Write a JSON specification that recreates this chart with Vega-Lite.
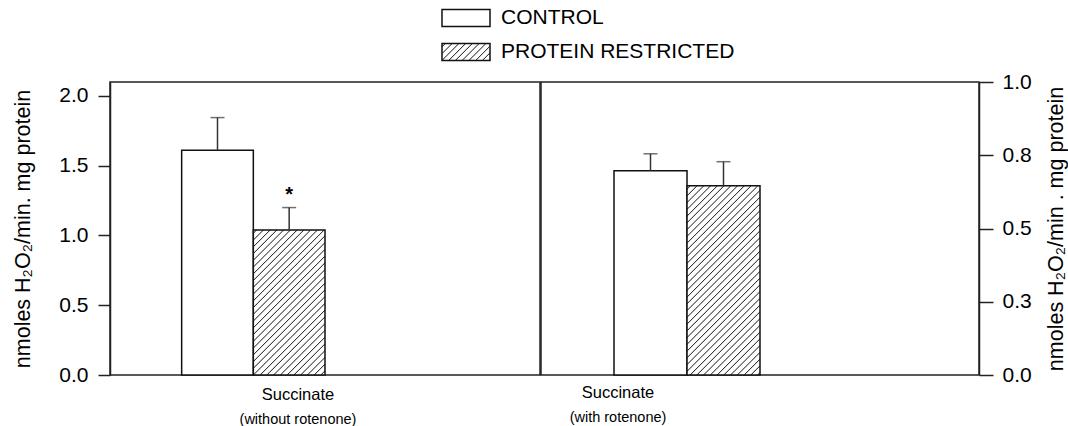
{
  "$schema": "https://vega.github.io/schema/vega-lite/v6.json",
  "padding": {"left": 12, "top": 0, "right": 2, "bottom": 0},
  "spacing": -1.5,
  "config": {
    "font": "Liberation Sans",
    "view": {"stroke": "#222", "strokeWidth": 1.5},
    "axis": {"grid": false, "domainColor": "#222", "tickColor": "#222", "domainWidth": 1.5, "tickWidth": 1.5, "labelColor": "black", "titleColor": "black", "titleFontWeight": "normal", "labelFontSize": 21, "titleFontSize": 21.5, "tickSize": 12},
    "legend": {"labelFontSize": 21, "labelColor": "black", "labelOffset": 17, "labelLimit": 400, "symbolOpacity": 1, "symbolSize": 1156, "symbolType": "M-1.412,-0.5H1.412V0.5H-1.412Z", "rowPadding": 0}
  },
  "data": {"values": [
    {"panel": "left", "group": "CONTROL", "value": 1.61, "upper": 1.845, "sig": ""},
    {"panel": "left", "group": "PROTEIN RESTRICTED", "value": 1.04, "upper": 1.2, "sig": "*"},
    {"panel": "right", "group": "CONTROL", "value": 0.697, "upper": 0.755, "sig": ""},
    {"panel": "right", "group": "PROTEIN RESTRICTED", "value": 0.646, "upper": 0.728, "sig": ""}
  ]},
  "hconcat": [
    {
      "width": 430,
      "height": 293,
      "transform": [{"filter": "datum.panel === 'left'"}],
      "title": {"text": "Succinate", "subtitle": "(without rotenone)", "orient": "bottom", "anchor": "middle", "dx": -27, "offset": 2, "fontSize": 16.5, "subtitleFontSize": 14.5, "fontWeight": "normal", "subtitlePadding": 9, "color": "black", "subtitleColor": "black"},
      "encoding": {"x": {"field": "group", "type": "nominal", "scale": {"domain": ["p0", "CONTROL", "PROTEIN RESTRICTED", "p3", "p4", "p5"], "paddingInner": 0, "paddingOuter": 0}, "axis": null}},
      "layer": [
        {
          "mark": {"type": "bar", "stroke": "#111", "strokeWidth": 1.5},
          "encoding": {
            "y": {"field": "value", "type": "quantitative", "title": "nmoles H₂O₂/min. mg protein", "scale": {"domain": [0, 2.1], "nice": false}, "axis": {"values": [0, 0.5, 1, 1.5, 2], "format": ".1f", "labelPadding": 10, "titlePadding": 24}},
            "fill": {
              "condition": {"test": "datum.group === 'PROTEIN RESTRICTED'", "value": {"gradient": "linear", "x1": 0, "y1": 0, "x2": 0.7388, "y2": 1.4959, "stops": [
{"offset":0.0085,"color":"white"},{"offset":0.0125,"color":"#222"},{"offset":0.0165,"color":"white"},
{"offset":0.0335,"color":"white"},{"offset":0.0375,"color":"#222"},{"offset":0.0415,"color":"white"},
{"offset":0.0585,"color":"white"},{"offset":0.0625,"color":"#222"},{"offset":0.0665,"color":"white"},
{"offset":0.0835,"color":"white"},{"offset":0.0875,"color":"#222"},{"offset":0.0915,"color":"white"},
{"offset":0.1085,"color":"white"},{"offset":0.1125,"color":"#222"},{"offset":0.1165,"color":"white"},
{"offset":0.1335,"color":"white"},{"offset":0.1375,"color":"#222"},{"offset":0.1415,"color":"white"},
{"offset":0.1585,"color":"white"},{"offset":0.1625,"color":"#222"},{"offset":0.1665,"color":"white"},
{"offset":0.1835,"color":"white"},{"offset":0.1875,"color":"#222"},{"offset":0.1915,"color":"white"},
{"offset":0.2085,"color":"white"},{"offset":0.2125,"color":"#222"},{"offset":0.2165,"color":"white"},
{"offset":0.2335,"color":"white"},{"offset":0.2375,"color":"#222"},{"offset":0.2415,"color":"white"},
{"offset":0.2585,"color":"white"},{"offset":0.2625,"color":"#222"},{"offset":0.2665,"color":"white"},
{"offset":0.2835,"color":"white"},{"offset":0.2875,"color":"#222"},{"offset":0.2915,"color":"white"},
{"offset":0.3085,"color":"white"},{"offset":0.3125,"color":"#222"},{"offset":0.3165,"color":"white"},
{"offset":0.3335,"color":"white"},{"offset":0.3375,"color":"#222"},{"offset":0.3415,"color":"white"},
{"offset":0.3585,"color":"white"},{"offset":0.3625,"color":"#222"},{"offset":0.3665,"color":"white"},
{"offset":0.3835,"color":"white"},{"offset":0.3875,"color":"#222"},{"offset":0.3915,"color":"white"},
{"offset":0.4085,"color":"white"},{"offset":0.4125,"color":"#222"},{"offset":0.4165,"color":"white"},
{"offset":0.4335,"color":"white"},{"offset":0.4375,"color":"#222"},{"offset":0.4415,"color":"white"},
{"offset":0.4585,"color":"white"},{"offset":0.4625,"color":"#222"},{"offset":0.4665,"color":"white"},
{"offset":0.4835,"color":"white"},{"offset":0.4875,"color":"#222"},{"offset":0.4915,"color":"white"},
{"offset":0.5085,"color":"white"},{"offset":0.5125,"color":"#222"},{"offset":0.5165,"color":"white"},
{"offset":0.5335,"color":"white"},{"offset":0.5375,"color":"#222"},{"offset":0.5415,"color":"white"},
{"offset":0.5585,"color":"white"},{"offset":0.5625,"color":"#222"},{"offset":0.5665,"color":"white"},
{"offset":0.5835,"color":"white"},{"offset":0.5875,"color":"#222"},{"offset":0.5915,"color":"white"},
{"offset":0.6085,"color":"white"},{"offset":0.6125,"color":"#222"},{"offset":0.6165,"color":"white"},
{"offset":0.6335,"color":"white"},{"offset":0.6375,"color":"#222"},{"offset":0.6415,"color":"white"},
{"offset":0.6585,"color":"white"},{"offset":0.6625,"color":"#222"},{"offset":0.6665,"color":"white"},
{"offset":0.6835,"color":"white"},{"offset":0.6875,"color":"#222"},{"offset":0.6915,"color":"white"},
{"offset":0.7085,"color":"white"},{"offset":0.7125,"color":"#222"},{"offset":0.7165,"color":"white"},
{"offset":0.7335,"color":"white"},{"offset":0.7375,"color":"#222"},{"offset":0.7415,"color":"white"},
{"offset":0.7585,"color":"white"},{"offset":0.7625,"color":"#222"},{"offset":0.7665,"color":"white"},
{"offset":0.7835,"color":"white"},{"offset":0.7875,"color":"#222"},{"offset":0.7915,"color":"white"},
{"offset":0.8085,"color":"white"},{"offset":0.8125,"color":"#222"},{"offset":0.8165,"color":"white"},
{"offset":0.8335,"color":"white"},{"offset":0.8375,"color":"#222"},{"offset":0.8415,"color":"white"},
{"offset":0.8585,"color":"white"},{"offset":0.8625,"color":"#222"},{"offset":0.8665,"color":"white"},
{"offset":0.8835,"color":"white"},{"offset":0.8875,"color":"#222"},{"offset":0.8915,"color":"white"},
{"offset":0.9085,"color":"white"},{"offset":0.9125,"color":"#222"},{"offset":0.9165,"color":"white"},
{"offset":0.9335,"color":"white"},{"offset":0.9375,"color":"#222"},{"offset":0.9415,"color":"white"},
{"offset":0.9585,"color":"white"},{"offset":0.9625,"color":"#222"},{"offset":0.9665,"color":"white"},
{"offset":0.9835,"color":"white"},{"offset":0.9875,"color":"#222"},{"offset":0.9915,"color":"white"}
              ]}},
              "value": "white"
            }
          }
        },
        {
          "transform": [{"filter": "datum.group === 'CONTROL'"}],
          "mark": {"type": "point", "opacity": 0, "filled": true, "fill": "white", "stroke": "#111", "strokeWidth": 1.2, "shape": "M-1.412,-0.5H1.412V0.5H-1.412Z", "size": 1156},
          "encoding": {
            "y": {"field": "value", "type": "quantitative", "title": "nmoles H₂O₂/min. mg protein"},
            "shape": {
              "field": "group", "type": "nominal",
              "scale": {"domain": ["CONTROL"], "range": ["M-1.412,-0.5H1.412V0.5H-1.412Z"]},
              "legend": {"title": null, "orient": "none", "legendX": 338, "legendY": -82}
            }
          }
        },
        {
          "transform": [{"filter": "datum.group === 'PROTEIN RESTRICTED'"}],
          "mark": {"type": "point", "opacity": 0, "filled": true, "stroke": "#111", "strokeWidth": 1.2, "shape": "M-1.412,-0.5H1.412V0.5H-1.412Z", "size": 1156,
            "fill": {"gradient": "linear", "x1": 0, "y1": 0, "x2": 4.998, "y2": 1.77, "stops": [
{"offset":0.0085,"color":"white"},{"offset":0.0125,"color":"#222"},{"offset":0.0165,"color":"white"},
{"offset":0.0335,"color":"white"},{"offset":0.0375,"color":"#222"},{"offset":0.0415,"color":"white"},
{"offset":0.0585,"color":"white"},{"offset":0.0625,"color":"#222"},{"offset":0.0665,"color":"white"},
{"offset":0.0835,"color":"white"},{"offset":0.0875,"color":"#222"},{"offset":0.0915,"color":"white"},
{"offset":0.1085,"color":"white"},{"offset":0.1125,"color":"#222"},{"offset":0.1165,"color":"white"},
{"offset":0.1335,"color":"white"},{"offset":0.1375,"color":"#222"},{"offset":0.1415,"color":"white"},
{"offset":0.1585,"color":"white"},{"offset":0.1625,"color":"#222"},{"offset":0.1665,"color":"white"},
{"offset":0.1835,"color":"white"},{"offset":0.1875,"color":"#222"},{"offset":0.1915,"color":"white"},
{"offset":0.2085,"color":"white"},{"offset":0.2125,"color":"#222"},{"offset":0.2165,"color":"white"},
{"offset":0.2335,"color":"white"},{"offset":0.2375,"color":"#222"},{"offset":0.2415,"color":"white"},
{"offset":0.2585,"color":"white"},{"offset":0.2625,"color":"#222"},{"offset":0.2665,"color":"white"}
            ]}},
          "encoding": {
            "y": {"field": "value", "type": "quantitative", "title": "nmoles H₂O₂/min. mg protein"},
            "size": {
              "field": "group", "type": "ordinal",
              "scale": {"domain": ["PROTEIN RESTRICTED"], "range": [1156, 1156]},
              "legend": {"title": null, "orient": "none", "legendX": 338, "legendY": -48}
            }
          }
        },
        {
          "mark": {"type": "rule", "color": "#333", "strokeWidth": 1.5},
          "encoding": {"y": {"field": "value", "type": "quantitative", "title": "nmoles H₂O₂/min. mg protein"}, "y2": {"field": "upper"}}
        },
        {
          "mark": {"type": "tick", "color": "#333", "thickness": 1.5, "size": 14, "orient": "horizontal"},
          "encoding": {"y": {"field": "upper", "type": "quantitative", "title": "nmoles H₂O₂/min. mg protein"}}
        },
        {
          "mark": {"type": "text", "dy": -13, "fontSize": 20, "fontWeight": "bold", "color": "black"},
          "encoding": {"y": {"field": "upper", "type": "quantitative", "title": "nmoles H₂O₂/min. mg protein"}, "text": {"field": "sig"}}
        }
      ]
    },
    {
      "width": 438,
      "height": 293,
      "transform": [{"filter": "datum.panel === 'right'"}],
      "title": {"text": "Succinate", "subtitle": "(with rotenone)", "orient": "bottom", "anchor": "middle", "dx": -142, "offset": 0, "fontSize": 16.5, "subtitleFontSize": 14.5, "fontWeight": "normal", "subtitlePadding": 9, "color": "black", "subtitleColor": "black"},
      "encoding": {"x": {"field": "group", "type": "nominal", "scale": {"domain": ["p0", "CONTROL", "PROTEIN RESTRICTED", "p3", "p4", "p5"], "paddingInner": 0, "paddingOuter": 0}, "axis": null}},
      "layer": [
        {
          "mark": {"type": "bar", "stroke": "#111", "strokeWidth": 1.5},
          "encoding": {
            "y": {"field": "value", "type": "quantitative", "title": "nmoles H₂O₂/min . mg protein", "scale": {"domain": [0, 1], "nice": false}, "axis": {"orient": "right", "values": [0, 0.25, 0.5, 0.75, 1], "format": ".1f", "labelPadding": 9, "titlePadding": 14, "titleAngle": 270, "titleBaseline": "top", "tickSize": 14}},
            "fill": {
              "condition": {"test": "datum.group === 'PROTEIN RESTRICTED'", "value": {"gradient": "linear", "x1": 0, "y1": 0, "x2": 0.4788, "y2": 1.2417, "stops": [
{"offset":0.0085,"color":"white"},{"offset":0.0125,"color":"#222"},{"offset":0.0165,"color":"white"},
{"offset":0.0335,"color":"white"},{"offset":0.0375,"color":"#222"},{"offset":0.0415,"color":"white"},
{"offset":0.0585,"color":"white"},{"offset":0.0625,"color":"#222"},{"offset":0.0665,"color":"white"},
{"offset":0.0835,"color":"white"},{"offset":0.0875,"color":"#222"},{"offset":0.0915,"color":"white"},
{"offset":0.1085,"color":"white"},{"offset":0.1125,"color":"#222"},{"offset":0.1165,"color":"white"},
{"offset":0.1335,"color":"white"},{"offset":0.1375,"color":"#222"},{"offset":0.1415,"color":"white"},
{"offset":0.1585,"color":"white"},{"offset":0.1625,"color":"#222"},{"offset":0.1665,"color":"white"},
{"offset":0.1835,"color":"white"},{"offset":0.1875,"color":"#222"},{"offset":0.1915,"color":"white"},
{"offset":0.2085,"color":"white"},{"offset":0.2125,"color":"#222"},{"offset":0.2165,"color":"white"},
{"offset":0.2335,"color":"white"},{"offset":0.2375,"color":"#222"},{"offset":0.2415,"color":"white"},
{"offset":0.2585,"color":"white"},{"offset":0.2625,"color":"#222"},{"offset":0.2665,"color":"white"},
{"offset":0.2835,"color":"white"},{"offset":0.2875,"color":"#222"},{"offset":0.2915,"color":"white"},
{"offset":0.3085,"color":"white"},{"offset":0.3125,"color":"#222"},{"offset":0.3165,"color":"white"},
{"offset":0.3335,"color":"white"},{"offset":0.3375,"color":"#222"},{"offset":0.3415,"color":"white"},
{"offset":0.3585,"color":"white"},{"offset":0.3625,"color":"#222"},{"offset":0.3665,"color":"white"},
{"offset":0.3835,"color":"white"},{"offset":0.3875,"color":"#222"},{"offset":0.3915,"color":"white"},
{"offset":0.4085,"color":"white"},{"offset":0.4125,"color":"#222"},{"offset":0.4165,"color":"white"},
{"offset":0.4335,"color":"white"},{"offset":0.4375,"color":"#222"},{"offset":0.4415,"color":"white"},
{"offset":0.4585,"color":"white"},{"offset":0.4625,"color":"#222"},{"offset":0.4665,"color":"white"},
{"offset":0.4835,"color":"white"},{"offset":0.4875,"color":"#222"},{"offset":0.4915,"color":"white"},
{"offset":0.5085,"color":"white"},{"offset":0.5125,"color":"#222"},{"offset":0.5165,"color":"white"},
{"offset":0.5335,"color":"white"},{"offset":0.5375,"color":"#222"},{"offset":0.5415,"color":"white"},
{"offset":0.5585,"color":"white"},{"offset":0.5625,"color":"#222"},{"offset":0.5665,"color":"white"},
{"offset":0.5835,"color":"white"},{"offset":0.5875,"color":"#222"},{"offset":0.5915,"color":"white"},
{"offset":0.6085,"color":"white"},{"offset":0.6125,"color":"#222"},{"offset":0.6165,"color":"white"},
{"offset":0.6335,"color":"white"},{"offset":0.6375,"color":"#222"},{"offset":0.6415,"color":"white"},
{"offset":0.6585,"color":"white"},{"offset":0.6625,"color":"#222"},{"offset":0.6665,"color":"white"},
{"offset":0.6835,"color":"white"},{"offset":0.6875,"color":"#222"},{"offset":0.6915,"color":"white"},
{"offset":0.7085,"color":"white"},{"offset":0.7125,"color":"#222"},{"offset":0.7165,"color":"white"},
{"offset":0.7335,"color":"white"},{"offset":0.7375,"color":"#222"},{"offset":0.7415,"color":"white"},
{"offset":0.7585,"color":"white"},{"offset":0.7625,"color":"#222"},{"offset":0.7665,"color":"white"},
{"offset":0.7835,"color":"white"},{"offset":0.7875,"color":"#222"},{"offset":0.7915,"color":"white"},
{"offset":0.8085,"color":"white"},{"offset":0.8125,"color":"#222"},{"offset":0.8165,"color":"white"},
{"offset":0.8335,"color":"white"},{"offset":0.8375,"color":"#222"},{"offset":0.8415,"color":"white"},
{"offset":0.8585,"color":"white"},{"offset":0.8625,"color":"#222"},{"offset":0.8665,"color":"white"},
{"offset":0.8835,"color":"white"},{"offset":0.8875,"color":"#222"},{"offset":0.8915,"color":"white"},
{"offset":0.9085,"color":"white"},{"offset":0.9125,"color":"#222"},{"offset":0.9165,"color":"white"},
{"offset":0.9335,"color":"white"},{"offset":0.9375,"color":"#222"},{"offset":0.9415,"color":"white"},
{"offset":0.9585,"color":"white"},{"offset":0.9625,"color":"#222"},{"offset":0.9665,"color":"white"},
{"offset":0.9835,"color":"white"},{"offset":0.9875,"color":"#222"},{"offset":0.9915,"color":"white"}
              ]}},
              "value": "white"
            }
          }
        },
        {
          "mark": {"type": "rule", "color": "#333", "strokeWidth": 1.5},
          "encoding": {"y": {"field": "value", "type": "quantitative", "title": "nmoles H₂O₂/min . mg protein"}, "y2": {"field": "upper"}}
        },
        {
          "mark": {"type": "tick", "color": "#333", "thickness": 1.5, "size": 14, "orient": "horizontal"},
          "encoding": {"y": {"field": "upper", "type": "quantitative", "title": "nmoles H₂O₂/min . mg protein"}}
        }
      ]
    }
  ]
}
